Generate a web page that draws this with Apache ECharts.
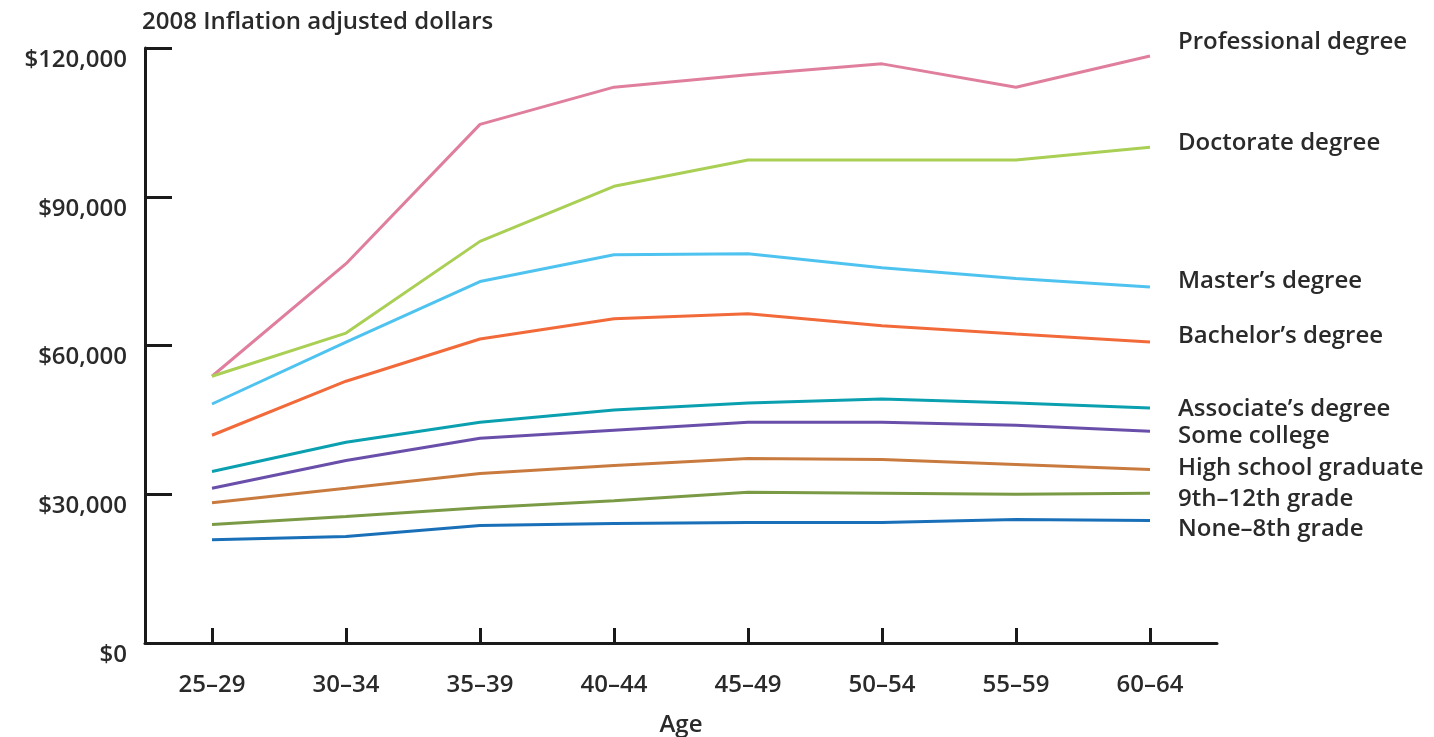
<!DOCTYPE html>
<html>
<head>
<meta charset="utf-8">
<script src="https://cdn.jsdelivr.net/npm/echarts@6/dist/echarts.min.js"></script>
<style>html,body{margin:0;padding:0;background:#fff;}#c{width:1434px;height:737px;}</style>
</head>
<body>
<div id="c"></div>
<script>
var categories = ['25\u201329','30\u201334','35\u201339','40\u201344','45\u201349','50\u201354','55\u201359','60\u201364'];
var yTicks = [0, 30000, 60000, 90000, 120000];
var seriesNames = ['Professional degree','Doctorate degree',"Master\u2019s degree","Bachelor\u2019s degree","Associate\u2019s degree",'Some college','High school graduate','9th\u201312th grade','None\u20138th grade'];
var professional = [53800, 76500, 104600, 112100, 114600, 116800, 112100, 118400];
var doctorate    = [53800, 62500, 81000, 92100, 97400, 97400, 97400, 100000];
var masters      = [48200, 60700, 72900, 78300, 78500, 75700, 73500, 71800];
var bachelors    = [41900, 52800, 61300, 65400, 66400, 64000, 62300, 60700];
var associates   = [34600, 40500, 44500, 47000, 48400, 49200, 48400, 47400];
var someCollege  = [31200, 36800, 41300, 42900, 44500, 44500, 43900, 42700];
var highSchool   = [28300, 31200, 34200, 35800, 37200, 37000, 36000, 35000];
var grade9to12   = [23900, 25500, 27300, 28700, 30400, 30200, 30000, 30200];
var none8th      = [20800, 21500, 23700, 24100, 24300, 24300, 24900, 24700];

var allData = [professional, doctorate, masters, bachelors, associates, someCollege, highSchool, grade9to12, none8th];
var colors = ['#e07f9d','#a9cf54','#4fc3f0','#f26a3a','#0aa0b0','#6a4faa','#c97b3f','#7b9a45','#1a70b8'];
var labelOffsets = [-14, -4, -6, -6, 1, 5, -1, 6, 9];

var FONT = 'Open Sans';
var TXT = '#2a2a2a';
var FS = 24;
var FW = 600;

var series = allData.map(function (d, i) {
  return {
    name: seriesNames[i],
    type: 'line',
    data: d,
    symbol: 'none',
    smooth: false,
    lineStyle: { color: colors[i], width: 3 },
    itemStyle: { color: colors[i] },
    endLabel: {
      show: true,
      formatter: '{a}',
      color: TXT,
      fontFamily: FONT,
      fontSize: FS,
      fontWeight: FW,
      distance: 28,
      offset: [0, labelOffsets[i]]
    },
    emphasis: { disabled: true },
    animation: false
  };
});

var chart = echarts.init(document.getElementById('c'));
chart.setOption({
  animation: false,
  grid: { left: 145, right: 217, top: 48, bottom: 94, containLabel: false, outerBoundsMode: 'none' },
  xAxis: {
    type: 'category',
    data: categories,
    boundaryGap: true,
    name: 'Age',
    nameLocation: 'middle',
    nameGap: 70,
    nameTextStyle: { color: TXT, fontFamily: FONT, fontSize: FS, fontWeight: FW },
    axisLine: { lineStyle: { color: '#1a1a1a', width: 3 } },
    axisTick: { show: true, inside: true, length: 15, alignWithLabel: true, lineStyle: { color: '#1a1a1a', width: 3 } },
    axisLabel: { color: TXT, fontFamily: FONT, fontSize: FS, fontWeight: FW, margin: 30 },
    splitLine: { show: false }
  },
  yAxis: {
    type: 'value',
    min: yTicks[0],
    max: yTicks[yTicks.length - 1],
    interval: yTicks[1] - yTicks[0],
    name: '2008 Inflation adjusted dollars',
    nameLocation: 'end',
    nameGap: 14,
    nameTextStyle: { color: TXT, fontFamily: FONT, fontSize: FS, fontWeight: FW, align: 'left', padding: [0, 0, 0, -3] },
    axisLine: { show: true, lineStyle: { color: '#1a1a1a', width: 3 } },
    axisTick: { show: true, inside: true, length: 27, lineStyle: { color: '#1a1a1a', width: 3 } },
    axisLabel: {
      color: TXT, fontFamily: FONT, fontSize: FS, fontWeight: FW, margin: 18,
      verticalAlign: 'top',
      formatter: function (v) { return '$' + v.toLocaleString('en-US'); }
    },
    splitLine: { show: false }
  },
  series: series
});
</script>
</body>
</html>
